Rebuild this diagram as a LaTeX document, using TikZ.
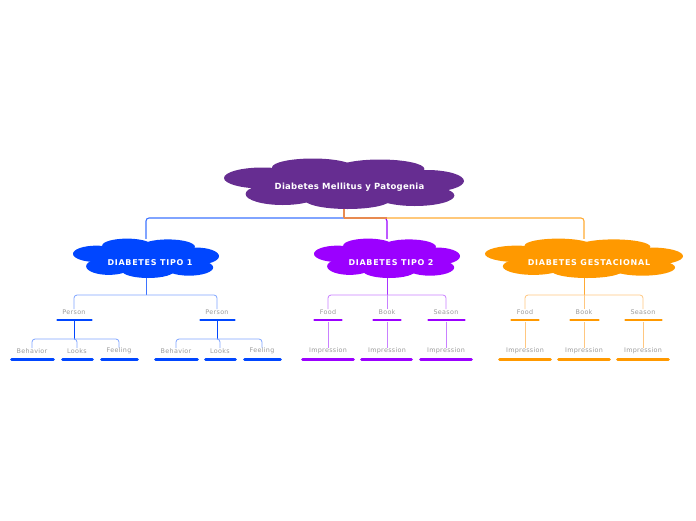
\documentclass[tikz,border=0pt]{standalone}
\usepackage{fontspec}
\setmainfont{DejaVu Sans}
\newfontfamily\cloudfont[LetterSpace=9]{DejaVu Sans}
\newfontfamily\rootfont[LetterSpace=3]{DejaVu Sans}
\newfontfamily\labfont[LetterSpace=5]{DejaVu Sans}
\definecolor{rootc}{HTML}{662D91}
\definecolor{bluec}{HTML}{0046FF}
\definecolor{purpc}{HTML}{9B00FF}
\definecolor{orangec}{HTML}{FF9900}
\definecolor{blueL}{HTML}{3D73FF}
\definecolor{blueLL}{HTML}{7FA4FF}
\definecolor{purpL}{HTML}{A833FF}
\definecolor{purpLL}{HTML}{C980FF}
\definecolor{orangeL}{HTML}{FFAA33}
\definecolor{orangeLL}{HTML}{FFC780}
\definecolor{junc}{HTML}{E88A50}
\definecolor{labelc}{HTML}{9A9A9A}
\tikzset{
  cloudbox/.style={minimum width=#1, inner sep=0pt},
  cloudtext/.style={inner sep=0pt, text=white, font=\cloudfont\bfseries\fontsize{8}{9}\selectfont},
  leaflabel/.style={text=labelc, font=\labfont\fontsize{6.4}{7}\selectfont, inner sep=0pt},
  barline/.style={line width=2.6pt, line cap=round},
  conn/.style={line width=1.1pt, rounded corners=3pt},
  conn2/.style={line width=0.8pt, rounded corners=3pt},
}
\newcommand{\cloudshape}[5]{% x, y, halfwidth, halfheight, colour
  \begin{scope}[shift={(#1,#2)}, xscale=#3, yscale=#4]
    \fill[#5] (-0.68,-0.24) ellipse [x radius=0.32, y radius=0.42];
    \fill[#5] (-0.26,-0.66) ellipse [x radius=0.34, y radius=0.36];
    \fill[#5] (0.30,-0.60) ellipse [x radius=0.37, y radius=0.38];
    \fill[#5] (0.69,-0.12) ellipse [x radius=0.31, y radius=0.44];
    \fill[#5] (0.59,0.46) ellipse [x radius=0.33, y radius=0.42];
    \fill[#5] (0.03,0.62) ellipse [x radius=0.36, y radius=0.38];
    \fill[#5] (-0.51,0.40) ellipse [x radius=0.31, y radius=0.44];
    \fill[#5] (0,0) ellipse [x radius=0.62, y radius=0.55];
  \end{scope}}
\begin{document}
\begin{tikzpicture}[x=1pt, y=-1pt]
\useasboundingbox (0,0) rectangle (696,520);
% clouds
\cloudshape{344}{184}{120}{25}{rootc}
\cloudshape{146}{258.5}{73}{19.5}{bluec}
\cloudshape{387}{258.5}{73}{19.5}{purpc}
\cloudshape{584}{258.5}{99}{19.5}{orangec}
\node[cloudbox=239pt, minimum height=49pt] (root) at (344,184) {};
\node[inner sep=0pt, text=white, font=\rootfont\bfseries\fontsize{8.5}{9}\selectfont] (rootT) at (349.5,187.5) {Diabetes Mellitus y Patogenia};
\node[cloudbox=146pt, minimum height=39pt] (t1) at (146,258.5) {};
\node[cloudbox=146pt, minimum height=39pt] (t2) at (387,258.5) {};
\node[cloudbox=198pt, minimum height=39pt] (t3) at (584,258.5) {};
\node[cloudtext] (t1T) at (150,262.8) {DIABETES TIPO 1};
\node[cloudtext] (t2T) at (391,262.8) {DIABETES TIPO 2};
\node[cloudtext] (t3T) at (589,262.8) {DIABETES GESTACIONAL};
% top connectors
\coordinate (j) at (344,218);
\draw[conn, blueL] (j) -| (t1.north);
\draw[conn, orangeL] (j) -| (t3.north);
\draw[conn, purpc] (j) -| (t2.north);
\draw[conn, junc] (j) -- (387,218);
\draw[line width=1.1pt, junc] (root.south) -- (j);

% ---------- Tipo 1 ----------
\node[leaflabel] (p1) at (74,311.8) {Person};
\node[leaflabel] (p2) at (217,311.8) {Person};
\coordinate (p1b) at (74,320); \coordinate (p2b) at (217,320);
\draw[barline, bluec] (57.5,320) -- (91.5,320);
\draw[barline, bluec] (200.5,320) -- (234.5,320);
\coordinate (j1) at (146,295);
\draw[conn2, blueL] (t1.south) -- (j1);
\draw[conn2, blueLL] (j1) -| (p1.north);
\draw[conn2, blueLL] (j1) -| (p2.north);

\node[leaflabel] (b1) at (32,350.8) {Behavior};
\node[leaflabel] (l1) at (77,350.8) {Looks};
\node[leaflabel] (f1) at (119,350.8) {Feeling};
\node[leaflabel] (b2) at (176,350.8) {Behavior};
\node[leaflabel] (l2) at (220,350.8) {Looks};
\node[leaflabel] (f2) at (262,350.8) {Feeling};
\foreach \a/\b in {11.5/53.5, 62.5/92.5, 101.5/137.5, 155.5/197.5, 205.5/235.5, 244.5/280.5}
  \draw[barline, bluec] (\a,359.5) -- (\b,359.5);
\coordinate (k1) at (74,339);
\coordinate (k2) at (217,339);
\draw[conn2, bluec] (p1b) -- (k1);
\draw[conn2, bluec] (p2b) -- (k2);
\draw[conn2, blueLL] (k1) -| (b1.north);
\draw[conn2, blueLL] (k1) -| (f1.north);
\draw[conn2, blueLL] (k1) -| (l1.north);
\draw[conn2, blueLL] (k2) -| (b2.north);
\draw[conn2, blueLL] (k2) -| (f2.north);
\draw[conn2, blueLL] (k2) -| (l2.north);

% ---------- Tipo 2 ----------
\node[leaflabel] (fo2) at (328,311.8) {Food};
\node[leaflabel] (bo2) at (387,311.8) {Book};
\node[leaflabel] (se2) at (446,311.8) {Season};
\draw[barline, purpc] (314.5,320) -- (341.5,320);
\draw[barline, purpc] (373.5,320) -- (400.5,320);
\draw[barline, purpc] (428.5,320) -- (464.5,320);
\coordinate (j2) at (387,295);
\draw[conn2, purpL] (t2.south) -- (j2);
\draw[conn2, purpLL] (j2) -| (fo2.north);
\draw[conn2, purpLL] (j2) -| (se2.north);
\draw[conn2, purpLL] (j2) -- (bo2.north);
\node[leaflabel] (i21) at (328,350.8) {Impression};
\node[leaflabel] (i22) at (387,350.8) {Impression};
\node[leaflabel] (i23) at (446,350.8) {Impression};
\foreach \a/\b in {302.5/353.5, 361.5/411.5, 420.5/471.5}
  \draw[barline, purpc] (\a,359.5) -- (\b,359.5);
\draw[conn2, purpLL] (fo2.south |- 0,321.5) -- (i21.north);
\draw[conn2, purpLL] (bo2.south |- 0,321.5) -- (i22.north);
\draw[conn2, purpLL] (se2.south |- 0,321.5) -- (i23.north);

% ---------- Gestacional ----------
\node[leaflabel] (fo3) at (525,311.8) {Food};
\node[leaflabel] (bo3) at (584,311.8) {Book};
\node[leaflabel] (se3) at (643,311.8) {Season};
\draw[barline, orangec] (511.5,320) -- (538.5,320);
\draw[barline, orangec] (570.5,320) -- (598.5,320);
\draw[barline, orangec] (625.5,320) -- (661.5,320);
\coordinate (j3) at (584,295);
\draw[conn2, orangeL] (t3.south) -- (j3);
\draw[conn2, orangeLL] (j3) -| (fo3.north);
\draw[conn2, orangeLL] (j3) -| (se3.north);
\draw[conn2, orangeLL] (j3) -- (bo3.north);
\node[leaflabel] (i31) at (525,350.8) {Impression};
\node[leaflabel] (i32) at (584,350.8) {Impression};
\node[leaflabel] (i33) at (643,350.8) {Impression};
\foreach \a/\b in {499.5/550.5, 558.5/609.5, 617.5/668.5}
  \draw[barline, orangec] (\a,359.5) -- (\b,359.5);
\draw[conn2, orangeLL] (fo3.south |- 0,321.5) -- (i31.north);
\draw[conn2, orangeLL] (bo3.south |- 0,321.5) -- (i32.north);
\draw[conn2, orangeLL] (se3.south |- 0,321.5) -- (i33.north);
\end{tikzpicture}
\end{document}
